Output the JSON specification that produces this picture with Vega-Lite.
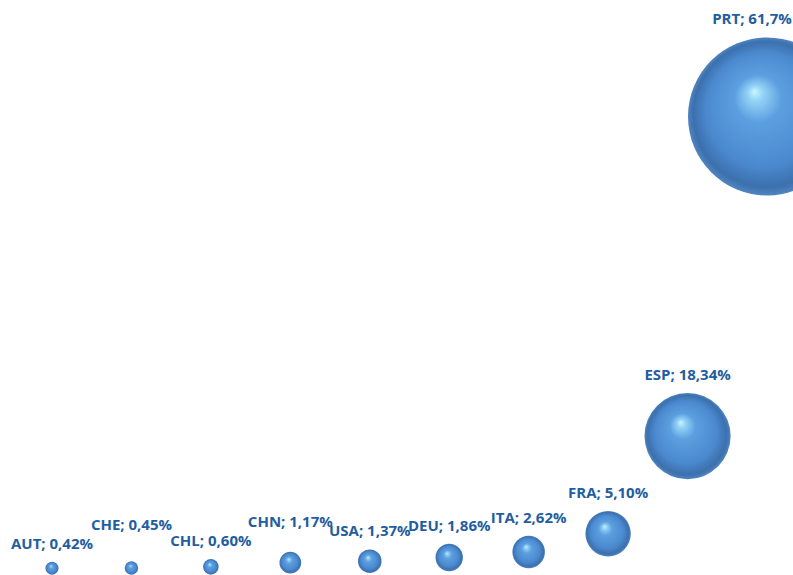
{
  "$schema": "https://vega.github.io/schema/vega-lite/v6.json",
  "autosize": {"type": "fit", "contains": "padding"},
  "width": 793,
  "height": 575,
  "padding": 0,
  "background": "white",
  "config": {"view": {"stroke": null}},
  "data": {
    "values": [
      {"code": "AUT", "value": 0.42, "label": "AUT; 0,42%"},
      {"code": "CHE", "value": 0.45, "label": "CHE; 0,45%"},
      {"code": "CHL", "value": 0.60, "label": "CHL; 0,60%"},
      {"code": "CHN", "value": 1.17, "label": "CHN; 1,17%"},
      {"code": "USA", "value": 1.37, "label": "USA; 1,37%"},
      {"code": "DEU", "value": 1.86, "label": "DEU; 1,86%"},
      {"code": "ITA", "value": 2.62, "label": "ITA; 2,62%"},
      {"code": "FRA", "value": 5.10, "label": "FRA; 5,10%"},
      {"code": "ESP", "value": 18.34, "label": "ESP; 18,34%"},
      {"code": "PRT", "value": 61.7, "label": "PRT; 61,7%"}
    ]
  },
  "encoding": {
    "x": {"field": "code", "type": "nominal", "sort": null, "axis": null,
          "scale": {"type": "point", "padding": 0, "range": [52, 767]}},
    "y": {"field": "value", "type": "quantitative", "axis": null,
          "scale": {"domain": [-0.37, 77.5], "nice": false, "zero": false}}
  },
  "layer": [
    {
      "mark": {
        "type": "circle",
        "opacity": 1,
        "fill": {
          "gradient": "radial",
          "x1": 0.42, "y1": 0.34, "r1": 0,
          "x2": 0.5, "y2": 0.5, "r2": 0.5,
          "stops": [
            {"offset": 0, "color": "#c8f6ff"},
            {"offset": 0.1, "color": "#93d2f6"},
            {"offset": 0.3, "color": "#5c9fe0"},
            {"offset": 0.72, "color": "#4b89cf"},
            {"offset": 0.92, "color": "#3c70ad"},
            {"offset": 1, "color": "#4f85c2"}
          ]
        }
      },
      "encoding": {
        "size": {"field": "value", "type": "quantitative", "legend": null,
                 "scale": {"type": "linear", "domain": [0, 61.7], "range": [0, 24964]}}
      }
    },
    {
      "transform": [{"filter": "datum.code !== 'CHE' && datum.code !== 'CHN' && datum.code !== 'PRT'"}],
      "mark": {"type": "text", "font": "Open Sans", "fontWeight": "bold", "fontSize": 15,
               "color": "#1f5e9f", "baseline": "middle", "align": "center", "dy": -18, "theta": 0},
      "encoding": {
        "text": {"field": "label"},
        "radius": {"field": "value", "type": "quantitative",
                   "scale": {"type": "sqrt", "domain": [0, 61.7], "range": [0, 79], "zero": true}}
      }
    },
    {
      "transform": [{"filter": "datum.code === 'PRT'"}],
      "mark": {"type": "text", "font": "Open Sans", "fontWeight": "bold", "fontSize": 15,
               "color": "#1f5e9f", "baseline": "middle", "align": "center", "dy": -18, "dx": -15, "theta": 0},
      "encoding": {
        "text": {"field": "label"},
        "radius": {"field": "value", "type": "quantitative",
                   "scale": {"type": "sqrt", "domain": [0, 61.7], "range": [0, 79], "zero": true}}
      }
    },
    {
      "transform": [{"filter": "datum.code === 'CHE'"}],
      "mark": {"type": "text", "font": "Open Sans", "fontWeight": "bold", "fontSize": 15,
               "color": "#1f5e9f", "baseline": "middle", "align": "center", "dy": -36, "theta": 0},
      "encoding": {
        "text": {"field": "label"},
        "radius": {"field": "value", "type": "quantitative",
                   "scale": {"type": "sqrt", "domain": [0, 61.7], "range": [0, 79], "zero": true}}
      }
    },
    {
      "transform": [{"filter": "datum.code === 'CHN'"}],
      "mark": {"type": "text", "font": "Open Sans", "fontWeight": "bold", "fontSize": 15,
               "color": "#1f5e9f", "baseline": "middle", "align": "center", "dy": -30, "theta": 0},
      "encoding": {
        "text": {"field": "label"},
        "radius": {"field": "value", "type": "quantitative",
                   "scale": {"type": "sqrt", "domain": [0, 61.7], "range": [0, 79], "zero": true}}
      }
    }
  ]
}
